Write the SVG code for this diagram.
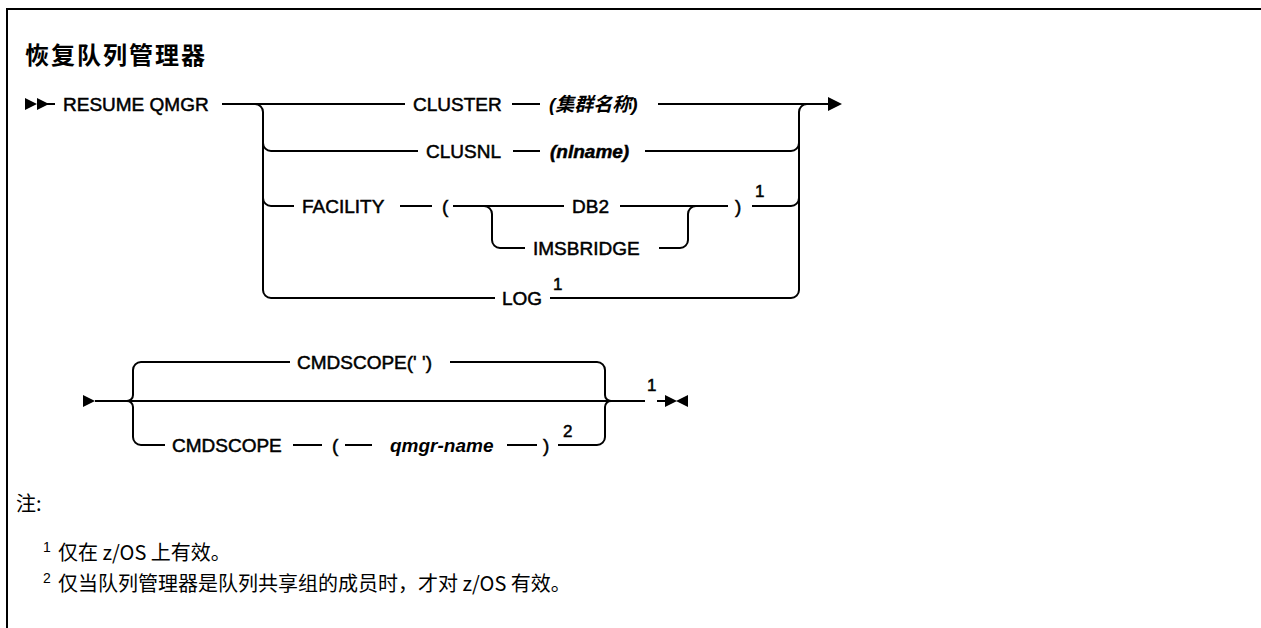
<svg xmlns="http://www.w3.org/2000/svg" width="1261" height="628" viewBox="0 0 1261 628">
<style>
.ln{fill:none;stroke:#000;stroke-width:2}
.t{font-family:"Liberation Sans",Arial,sans-serif;font-size:19px;fill:#000;stroke:#000;stroke-width:0.5}
.i{font-family:"Liberation Sans","Noto Sans CJK SC",sans-serif;font-size:19px;font-style:italic;font-weight:bold;fill:#000}
.sup{font-family:"Liberation Sans",Arial,sans-serif;font-size:17px;fill:#000;stroke:#000;stroke-width:0.5}
.nsup{font-family:"Liberation Sans",Arial,sans-serif;font-size:14px;fill:#000}
.cjk{font-family:"Noto Sans CJK SC",sans-serif;fill:#000}
.ah{fill:#000}
</style>
<rect width="1261" height="628" fill="#fff"/>
<path class="ln" d="M7,628 V9 H1261"/>
<text class="cjk" x="25" y="64" font-size="24" font-weight="bold" letter-spacing="2">恢复队列管理器</text>

<g id="connectors">
  <polygon class="ah" points="25,98 37,104 25,110"/>
  <polygon class="ah" points="37,98 49,104 37,110"/>
  <path class="ln" d="M45,104 H55"/>
  <path class="ln" d="M222,104 H405"/>
  <path class="ln" d="M512,104 H540"/>
  <path class="ln" d="M658,104 H829"/>
  <polygon class="ah" points="828,97 842,104 828,111"/>
  <path class="ln" d="M255,104 a8,8 0 0 1 8,8 V290 a8,8 0 0 0 8,8 H495"/>
  <path class="ln" d="M263,143 a8,8 0 0 0 8,8 H418"/>
  <path class="ln" d="M513,151 H540"/>
  <path class="ln" d="M645,151 H791 a8,8 0 0 0 8,-8"/>
  <path class="ln" d="M263,198 a8,8 0 0 0 8,8 H294"/>
  <path class="ln" d="M400,206 H432"/>
  <path class="ln" d="M453,206 H564"/>
  <path class="ln" d="M620,206 H728"/>
  <path class="ln" d="M484,206 a8,8 0 0 1 8,8 V240 a8,8 0 0 0 8,8 H525"/>
  <path class="ln" d="M659,248 H680 a8,8 0 0 0 8,-8 V214 a8,8 0 0 1 8,-8"/>
  <path class="ln" d="M752,206 H791 a8,8 0 0 0 8,-8"/>
  <path class="ln" d="M550,298 H791 a8,8 0 0 0 8,-8 V112 a8,8 0 0 1 8,-8"/>

  <polygon class="ah" points="83,395 95,401 83,407"/>
  <path class="ln" d="M95,401 H645"/>
  <path class="ln" d="M657,401 H667"/>
  <polygon class="ah" points="665,395 677,401 665,407"/>
  <polygon class="ah" points="688,395 676,401 688,407"/>
  <path class="ln" d="M127,401 a6,6 0 0 0 6,-6 V370 a8,8 0 0 1 8,-8 H290"/>
  <path class="ln" d="M450,362 H597 a8,8 0 0 1 8,8 V395 a6,6 0 0 0 6,6"/>
  <path class="ln" d="M127,401 a6,6 0 0 1 6,6 V437 a8,8 0 0 0 8,8 H165"/>
  <path class="ln" d="M558,445 H597 a8,8 0 0 0 8,-8 V407 a6,6 0 0 1 6,-6"/>
  <path class="ln" d="M293,445 H322"/>
  <path class="ln" d="M345,445 H372"/>
  <path class="ln" d="M507,445 H537"/>
</g>

<g id="n-resume"><text class="t" x="63" y="111">RESUME QMGR</text></g>
<g id="n-cluster"><text class="t" x="413" y="111">CLUSTER</text></g>
<g id="n-clustername"><text class="i" x="549" y="111">(集群名称)</text></g>
<g id="n-clusnl"><text class="t" x="426" y="158">CLUSNL</text></g>
<g id="n-nlname"><text class="i" x="550" y="158" font-weight="normal" stroke="#000" stroke-width="0.5">(nlname)</text></g>
<g id="n-facility"><text class="t" x="302" y="213">FACILITY</text></g>
<g id="n-lparen"><text class="t" x="442" y="213">(</text></g>
<g id="n-db2"><text class="t" x="572" y="213">DB2</text></g>
<g id="n-imsbridge"><text class="t" x="533" y="255">IMSBRIDGE</text></g>
<g id="n-rparen"><text class="t" x="735" y="213">)</text></g>
<g id="n-sup1a"><text class="sup" x="755" y="197">1</text></g>
<g id="n-log"><text class="t" x="502" y="305">LOG</text></g>
<g id="n-sup1b"><text class="sup" x="553" y="290">1</text></g>

<g id="n-cmdscope1"><text class="t" x="297" y="369">CMDSCOPE(' ')</text></g>
<g id="n-cmdscope2"><text class="t" x="172" y="452">CMDSCOPE</text></g>
<g id="n-lparen2"><text class="t" x="332" y="452">(</text></g>
<g id="n-qmgr"><text class="i" x="390" y="452">qmgr-name</text></g>
<g id="n-rparen2"><text class="t" x="543" y="452">)</text></g>
<g id="n-sup2"><text class="sup" x="563" y="437">2</text></g>
<g id="n-sup1c"><text class="sup" x="647" y="391">1</text></g>

<g id="notes">
  <text class="cjk" x="16" y="511" font-size="20">注:</text>
  <text class="nsup" x="43" y="552">1</text>
  <text class="cjk" x="58" y="560" font-size="20">仅在 z/OS 上有效。</text>
  <text class="nsup" x="43" y="583">2</text>
  <text class="cjk" x="58" y="591" font-size="20">仅当队列管理器是队列共享组的成员时，才对 z/OS 有效。</text>
</g>
</svg>
